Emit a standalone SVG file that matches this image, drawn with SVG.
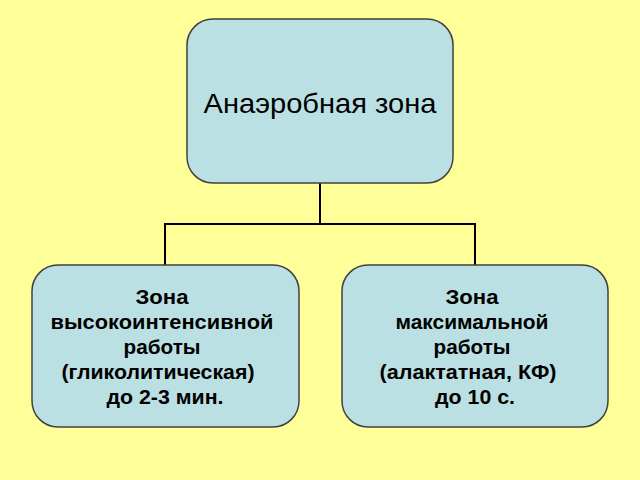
<svg xmlns="http://www.w3.org/2000/svg" width="640" height="480" viewBox="0 0 640 480">
<style>
.box{fill:#BBE0E3;stroke:#404040;stroke-width:1.5}
.conn{fill:none;stroke:#000;stroke-width:2}
.t{font-family:"Liberation Sans",Arial,sans-serif;fill:#000;text-anchor:middle}
.b{font-weight:bold;font-size:20px}
</style>
<rect x="0" y="0" width="640" height="480" fill="#FFFF99"/>
<g id="connectors">
<path class="conn" d="M320,183 V224 M165,224 H475 M165,223 V265 M475,223 V265"/>
</g>
<g id="node-top">
<rect class="box" x="187" y="19" width="266" height="164" rx="26" ry="26"/>
<text class="t" x="320" y="113" font-size="28" textLength="233" lengthAdjust="spacingAndGlyphs">Анаэробная зона</text>
</g>
<g id="node-left">
<rect class="box" x="32" y="265" width="267" height="162" rx="26" ry="26"/>
<text class="t b" x="162" y="304" textLength="53" lengthAdjust="spacingAndGlyphs">Зона</text>
<text class="t b" x="162" y="329" textLength="223" lengthAdjust="spacingAndGlyphs">высокоинтенсивной</text>
<text class="t b" x="162" y="354" textLength="77" lengthAdjust="spacingAndGlyphs">работы</text>
<text class="t b" x="158" y="379" textLength="193" lengthAdjust="spacingAndGlyphs">(гликолитическая)</text>
<text class="t b" x="165" y="404" textLength="117" lengthAdjust="spacingAndGlyphs">до 2-3 мин.</text>
</g>
<g id="node-right">
<rect class="box" x="342" y="265" width="266" height="162" rx="26" ry="26"/>
<text class="t b" x="472" y="304" textLength="53" lengthAdjust="spacingAndGlyphs">Зона</text>
<text class="t b" x="472" y="329" textLength="153" lengthAdjust="spacingAndGlyphs">максимальной</text>
<text class="t b" x="472" y="354" textLength="77" lengthAdjust="spacingAndGlyphs">работы</text>
<text class="t b" x="468" y="379" textLength="177" lengthAdjust="spacingAndGlyphs">(алактатная, КФ)</text>
<text class="t b" x="475" y="404" textLength="80" lengthAdjust="spacingAndGlyphs">до 10 с.</text>
</g>
</svg>
